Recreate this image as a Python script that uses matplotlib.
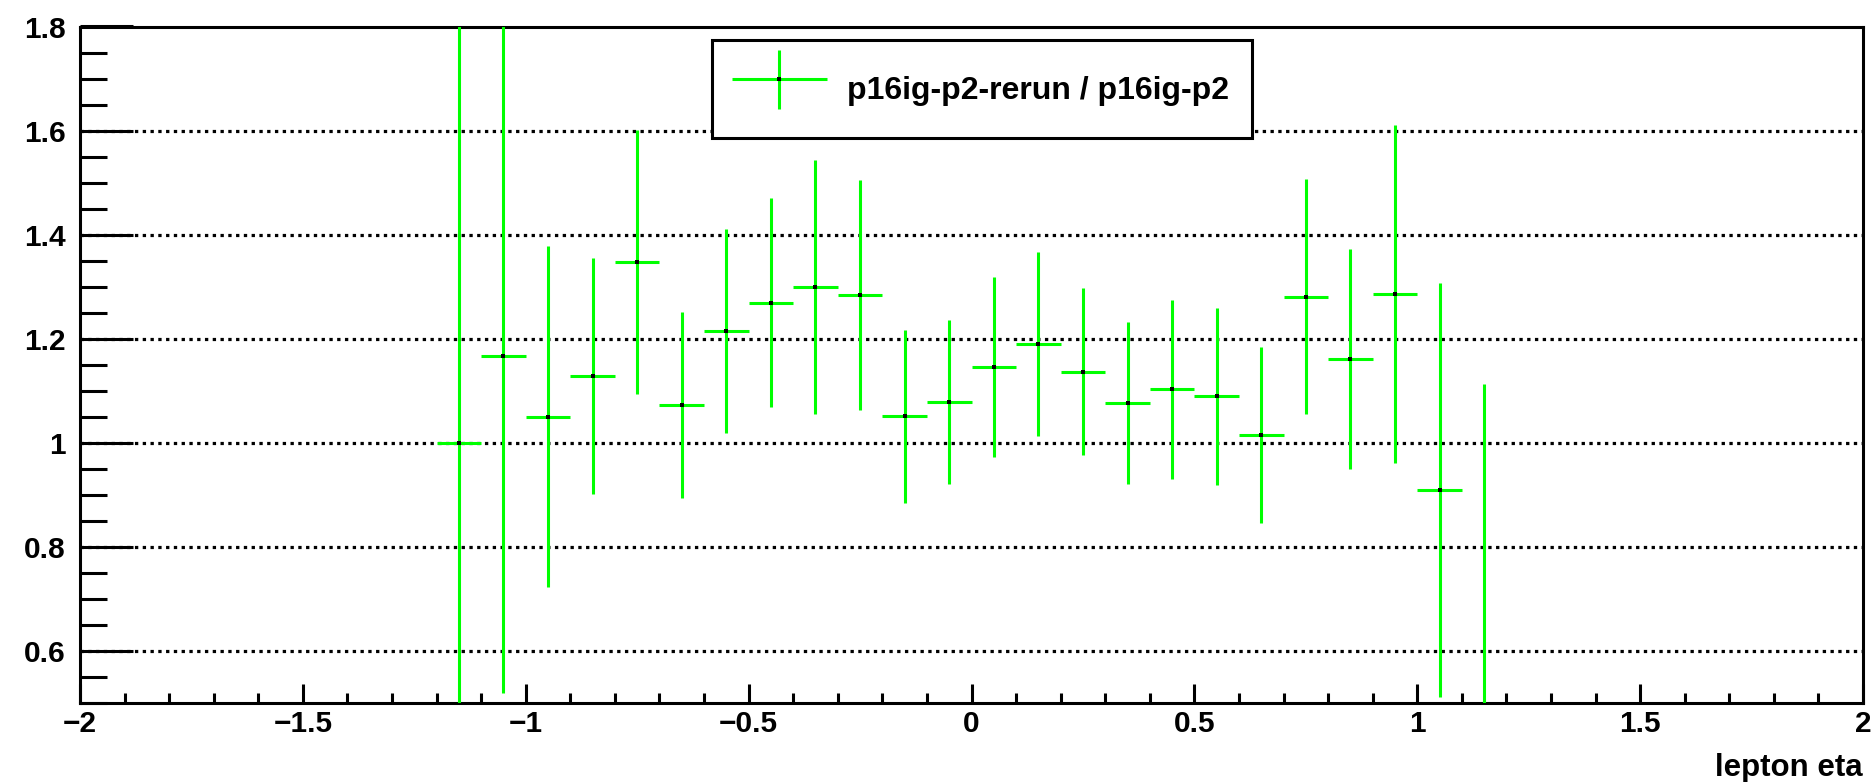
import matplotlib
matplotlib.use("Agg")
import matplotlib.pyplot as plt
from matplotlib.container import ErrorbarContainer
from matplotlib.legend_handler import HandlerErrorbar
from matplotlib.ticker import MultipleLocator

# ---- data ----
eta_centers = [-1.15, -1.05, -0.95, -0.85, -0.75, -0.65, -0.55, -0.45, -0.35, -0.25,
               -0.15, -0.05, 0.05, 0.15, 0.25, 0.35, 0.45, 0.55, 0.65, 0.75,
               0.85, 0.95, 1.05, 1.15]
ratio = [1.000, 1.167, 1.050, 1.128, 1.347, 1.073, 1.215, 1.269, 1.300, 1.284,
         1.051, 1.078, 1.145, 1.190, 1.137, 1.077, 1.103, 1.089, 1.015, 1.281,
         1.161, 1.286, 0.910, 0.450]
ratio_err = [1.000, 0.648, 0.328, 0.227, 0.254, 0.179, 0.196, 0.201, 0.244, 0.221,
             0.166, 0.158, 0.173, 0.177, 0.160, 0.156, 0.172, 0.170, 0.169, 0.226,
             0.212, 0.325, 0.398, 0.663]
bin_half_width = 0.05
legend_label = "p16ig-p2-rerun / p16ig-p2"
x_title = "lepton eta"

plt.rcParams['font.family'] = ['Liberation Sans', 'DejaVu Sans']
plt.rcParams['font.weight'] = 'bold'
plt.rcParams['lines.scale_dashes'] = False

W, H = 1876, 782
fig = plt.figure(figsize=(W / 100, H / 100), dpi=100)
ax_l, ax_r, ax_t, ax_b = 80, 1863, 26.5, 703
ax = fig.add_axes([ax_l / W, 1 - ax_b / H, (ax_r - ax_l) / W, (ax_b - ax_t) / H])

green = '#00ff00'
eb = ax.errorbar(eta_centers, ratio, yerr=ratio_err, xerr=bin_half_width,
                 fmt='s', color='black', markersize=2.3, markeredgewidth=0,
                 ecolor=green, elinewidth=2.2, capsize=0, label=legend_label,
                 zorder=3)

ax.set_xlim(-2, 2)
ax.set_ylim(0.5, 1.8)

# grid: dotted horizontal lines at major y ticks
ax.yaxis.grid(True, linestyle=(0, (2.4, 3.2)), linewidth=2.3, color='black')
ax.xaxis.grid(False)
ax.set_axisbelow(True)

ax.xaxis.set_major_locator(MultipleLocator(0.5))
ax.xaxis.set_minor_locator(MultipleLocator(0.1))
ax.yaxis.set_major_locator(MultipleLocator(0.2))
ax.yaxis.set_minor_locator(MultipleLocator(0.05))

def fmt_y(v, pos):
    s = f"{v:.1f}"
    if s.endswith(".0"):
        s = s[:-2]
    return s

def fmt_x(v, pos):
    s = f"{v:.1f}"
    if s.endswith(".0"):
        s = s[:-2]
    if s.startswith('-'):
        s = '\u2212' + s[1:]
    if s == '\u22120':
        s = '0'
    return s

ax.yaxis.set_major_formatter(plt.FuncFormatter(fmt_y))
ax.xaxis.set_major_formatter(plt.FuncFormatter(fmt_x))

ax.tick_params(axis='y', which='major', direction='in', length=38, width=2.2,
               labelsize=21.5, pad=10.5)
ax.tick_params(axis='y', which='minor', direction='in', length=19.5, width=2.2)
ax.tick_params(axis='x', which='major', direction='in', length=14, width=2.2,
               labelsize=21.5, pad=5)
ax.tick_params(axis='x', which='minor', direction='in', length=7.5, width=2.2)
ax.tick_params(top=False, right=False, which='both')
for lab in ax.get_xticklabels() + ax.get_yticklabels():
    lab.set_fontweight('bold')

for sp in ax.spines.values():
    sp.set_linewidth(2.2)
    sp.set_color('black')

ax.set_xlabel(x_title, loc='right', fontsize=22.5, fontweight='bold', labelpad=11)

# legend
leg_fs = 23
leg_l, leg_r, leg_t, leg_b = 712, 1252, 40, 138
bx = (leg_l - ax_l) / (ax_r - ax_l)
bw = (leg_r - leg_l) / (ax_r - ax_l)
by = (ax_b - leg_b) / (ax_b - ax_t)
bh = (leg_b - leg_t) / (ax_b - ax_t)
leg = ax.legend(handles=[eb], labels=[legend_label],
                loc='upper left', bbox_to_anchor=(bx, by, bw, bh), mode='expand',
                borderaxespad=0, fontsize=leg_fs, frameon=True, fancybox=False,
                edgecolor='black', framealpha=1, borderpad=0.617,
                handlelength=2.97, handleheight=2.446, handletextpad=0.626,
                handler_map={ErrorbarContainer: HandlerErrorbar(xerr_size=1.487, yerr_size=0.917)})
leg.get_frame().set_linewidth(2.2)
for t in leg.get_texts():
    t.set_fontweight('bold')

fig.savefig('out.png', dpi=100)
